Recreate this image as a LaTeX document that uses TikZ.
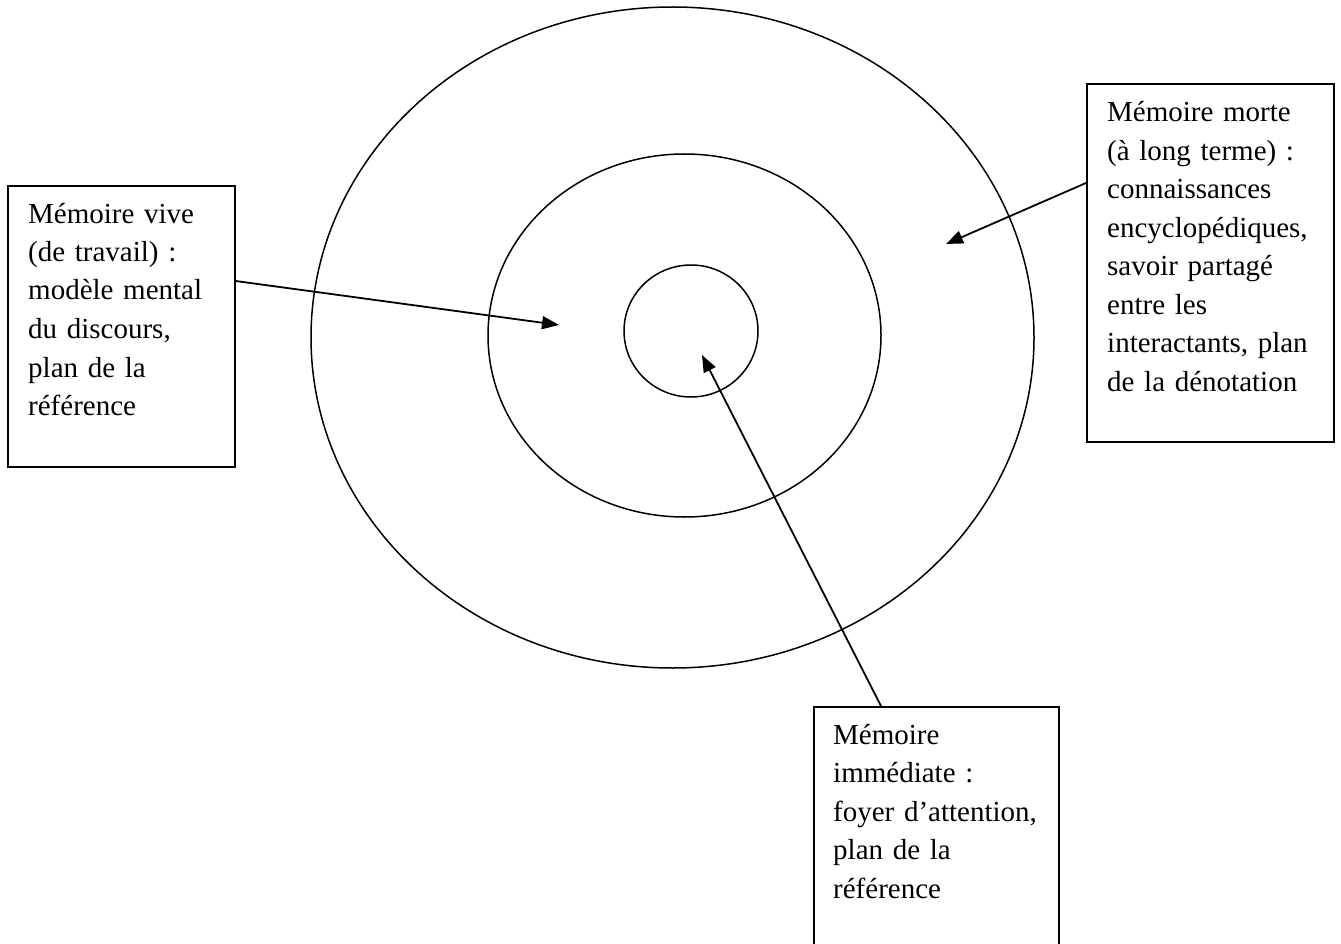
\documentclass[tikz,border=0pt]{standalone}
\usepackage{fontspec}
\setmainfont{Liberation Serif}
\usetikzlibrary{arrows.meta,calc}
\newcommand\mylblfont{\fontsize{29}{38.5}\selectfont\spaceskip=7.25pt\relax\xspaceskip=7.25pt\relax}
\begin{document}
\begin{tikzpicture}[x=1pt,y=-1pt,
  box/.style={draw,line width=1.6pt,inner sep=0pt,anchor=north west},
  lbl/.style={anchor=base west,inner sep=0pt,text width=240pt,align=left,font=\mylblfont},
  ring/.style={draw,line width=1.5pt},
  arr/.style={line width=1.8pt,-{Triangle[length=17pt,width=13pt]}}]
\useasboundingbox (0,0) rectangle (1341,944);
% rings
\draw[ring] (672.5,337.5) ellipse [x radius=361.5pt, y radius=330.5pt];
\draw[ring] (684.5,335.5) ellipse [x radius=196.5pt, y radius=181.5pt];
\draw[ring] (691,331) ellipse [x radius=67pt, y radius=66pt];
% boxes
\node[box, minimum width=227pt, minimum height=281pt] (lbox) at (7,185) {};
\node[box, minimum width=247pt, minimum height=358pt] (rbox) at (1086,83) {};
\node[box, minimum width=245pt, minimum height=300pt] (bbox) at (813,706) {};
% texts
\node[lbl] (ltxt) at (28,223) {Mémoire vive\\(de travail) :\\modèle mental\\du discours,\\plan de la\\référence};
\node[lbl] (rtxt) at (1107,122) {Mémoire morte\\(à long terme) :\\connaissances\\encyclopédiques,\\savoir partagé\\entre les\\interactants, plan\\de la dénotation};
\node[lbl] (btxt) at (833,744) {Mémoire\\immédiate :\\foyer d’attention,\\plan de la\\référence};
% arrow targets
\coordinate (lt) at (559,325);
\coordinate (rt) at (946,244);
\coordinate (bt) at (702,355);
% connectors
\draw[arr] ($(lbox.north east)+(0,96)$) -- (lt);
\draw[arr] ($(rbox.north west)+(0,100)$) -- (rt);
\draw[arr] ($(bbox.north west)+(68,0)$) -- (bt);
\end{tikzpicture}
\end{document}
